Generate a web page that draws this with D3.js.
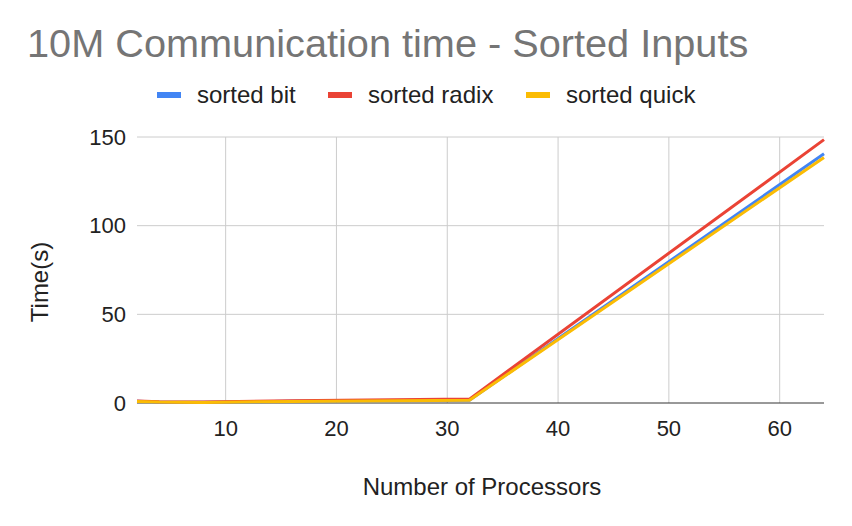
<!DOCTYPE html>
<html>
<head>
<meta charset="utf-8">
<script src="https://cdn.jsdelivr.net/npm/d3@7"></script>
<style>
  body { margin: 0; background: #fff; }
  text { font-family: Arial, "Liberation Sans", sans-serif; }
</style>
</head>
<body>
<svg id="chart"></svg>
<script>
var procs = [2, 4, 8, 16, 32, 64];
var sortedBit = [1.0, 0.6, 0.4, 1.0, 1.6, 140.5];
var sortedRadix = [1.1, 0.7, 0.5, 1.3, 2.2, 148.5];
var sortedQuick = [0.9, 0.5, 0.3, 0.9, 1.5, 138.5];
var seriesNames = ["sorted bit", "sorted radix", "sorted quick"];
var seriesColors = ["#4285f4", "#ea4335", "#fbbc04"];
var xTicks = [10, 20, 30, 40, 50, 60];
var yTicks = [0, 50, 100, 150];

var width = 852, height = 526;
var pLeft = 137, pRight = 824, pTop = 137, pBottom = 403;

var svg = d3.select("#chart")
  .attr("width", width)
  .attr("height", height);

svg.append("rect")
  .attr("width", width)
  .attr("height", height)
  .attr("fill", "#fff");

var x = d3.scaleLinear().domain([2, 64]).range([pLeft, pRight]);
var y = d3.scaleLinear().domain([0, 150]).range([pBottom, pTop]);

// grid
var grid = svg.append("g");
grid.selectAll(".hg")
  .data(yTicks.filter(function(d) { return d > 0; }))
  .enter().append("line")
  .attr("x1", pLeft).attr("x2", pRight)
  .attr("y1", function(d) { return y(d); })
  .attr("y2", function(d) { return y(d); })
  .attr("stroke", "#cccccc").attr("stroke-width", 1);

grid.selectAll(".vg")
  .data(xTicks)
  .enter().append("line")
  .attr("x1", function(d) { return x(d); })
  .attr("x2", function(d) { return x(d); })
  .attr("y1", pTop).attr("y2", pBottom)
  .attr("stroke", "#cccccc").attr("stroke-width", 1);

// baseline
svg.append("line")
  .attr("x1", pLeft).attr("x2", pRight)
  .attr("y1", y(0)).attr("y2", y(0))
  .attr("stroke", "#333333").attr("stroke-width", 1);

// tick labels
svg.selectAll(".yl")
  .data(yTicks)
  .enter().append("text")
  .attr("x", 126)
  .attr("y", function(d) { return y(d); })
  .attr("dy", "0.35em")
  .attr("text-anchor", "end")
  .attr("font-size", 22)
  .attr("fill", "#222")
  .text(function(d) { return d; });

svg.selectAll(".xl")
  .data(xTicks)
  .enter().append("text")
  .attr("x", function(d) { return x(d); })
  .attr("y", 428)
  .attr("dy", "0.35em")
  .attr("text-anchor", "middle")
  .attr("font-size", 22)
  .attr("fill", "#222")
  .text(function(d) { return d; });

// lines
var allSeries = [sortedBit, sortedRadix, sortedQuick];
var line = d3.line()
  .x(function(d, i) { return x(procs[i]); })
  .y(function(d) { return y(d); });

allSeries.forEach(function(s, i) {
  svg.append("path")
    .datum(s)
    .attr("d", line)
    .attr("fill", "none")
    .attr("stroke", seriesColors[i])
    .attr("stroke-width", 3)
    .attr("stroke-linejoin", "round");
});

// title
svg.append("text")
  .attr("x", 27)
  .attr("y", 57)
  .attr("font-size", 39.7)
  .attr("fill", "#757575")
  .text("10M Communication time - Sorted Inputs");

// legend
var legendX = [157, 328, 526];
seriesNames.forEach(function(n, i) {
  svg.append("rect")
    .attr("x", legendX[i])
    .attr("y", 92)
    .attr("width", 24)
    .attr("height", 6)
    .attr("fill", seriesColors[i]);
  svg.append("text")
    .attr("x", legendX[i] + 40)
    .attr("y", 103)
    .attr("font-size", 24)
    .attr("fill", "#222")
    .text(n);
});

// axis titles
svg.append("text")
  .attr("x", 482)
  .attr("y", 495)
  .attr("text-anchor", "middle")
  .attr("font-size", 24)
  .attr("fill", "#222")
  .text("Number of Processors");

svg.append("text")
  .attr("transform", "translate(40,282) rotate(-90)")
  .attr("dy", "0.35em")
  .attr("text-anchor", "middle")
  .attr("font-size", 24)
  .attr("fill", "#222")
  .text("Time(s)");
</script>
</body>
</html>
